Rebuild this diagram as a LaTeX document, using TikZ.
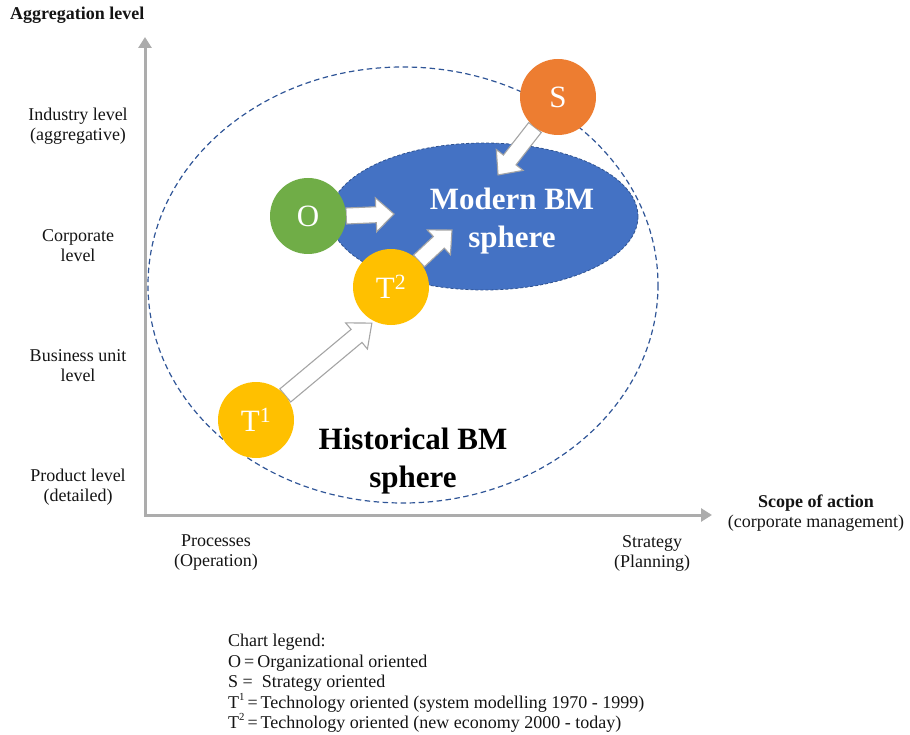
\documentclass[tikz,border=0pt]{standalone}
\usepackage{fontspec}
\setmainfont{Liberation Serif}
\usetikzlibrary{calc,arrows.meta}

\definecolor{axisgray}{RGB}{172,172,172}
\definecolor{arrowgray}{RGB}{165,165,165}
\definecolor{ringblue}{RGB}{47,85,151}
\definecolor{modernblue}{RGB}{68,114,196}
\definecolor{modernedge}{RGB}{47,82,143}
\definecolor{sorange}{RGB}{237,125,49}
\definecolor{ogreen}{RGB}{112,173,71}
\definecolor{tyellow}{RGB}{255,192,0}
\definecolor{labelblack}{RGB}{20,20,20}

% block arrow from a tail point to a tip point
% #1 tail, #2 tip, #3 shaft half width, #4 head half width, #5 head length
\newcommand\blockarrow[5]{%
  \path let \p1=(#1), \p2=(#2),
        \n1={atan2(\y2-\y1,\x2-\x1)}, \n2={veclen(\x2-\x1,\y2-\y1)} in
        \pgfextra{\xdef\baang{\n1}\xdef\balen{\n2}};
  \draw[blockarr, shift={(#1)}, rotate=\baang]
    (0pt,#3pt) -- ({\balen-#5pt},#3pt) -- ({\balen-#5pt},#4pt)
    -- (\balen,0pt) -- ({\balen-#5pt},-#4pt) -- ({\balen-#5pt},-#3pt)
    -- (0pt,-#3pt) -- cycle;
}
% small superscript used in the legend
\newcommand\supidx[1]{\raisebox{0.45em}{\scalebox{0.6}{#1}}}

\begin{document}
\begin{tikzpicture}[x=1pt,y=-1pt,
  axis/.style={draw=axisgray, line width=3pt},
  blockarr/.style={draw=arrowgray, fill=white, line width=1.1pt, line join=miter},
  lbl/.style={align=center, text=labelblack, font=\fontsize{18}{20}\selectfont, inner sep=0pt},
  axtitle/.style={align=center, text=labelblack, font=\fontsize{18}{20}\selectfont\bfseries, inner sep=0pt},
  bubble/.style={circle, minimum size=76pt, inner sep=0pt, text=white, font=\fontsize{31}{32}\selectfont},
  sphere/.style={align=center, inner sep=0pt, font=\fontsize{31}{38}\selectfont\bfseries}
]
\useasboundingbox (0,0) rectangle (910,735);

% axes
\coordinate (origin) at (145,515);
\coordinate (ytip) at (145,37);
\coordinate (xtip) at (712,515);
\draw[axis, {Triangle[length=11pt,width=13pt]}-{Triangle[length=11pt,width=13pt]}]
  (ytip) -- (origin) -- (xtip);

% axis titles and levels
\node[axtitle, anchor=west] (ytitle) at (10,15) {Aggregation level};
\node[lbl] (lvlind) at (78,126) {Industry level\\(aggregative)};
\node[lbl] (lvlcorp) at (78,246) {Corporate\\level};
\node[lbl] (lvlbu) at (78,366) {Business unit\\level};
\node[lbl] (lvlprod) at (78,487) {Product level\\(detailed)};
\node[lbl] (xproc) at (216,553) {Processes\\(Operation)};
\node[lbl] (xstrat) at (652,553) {Strategy\\(Planning)};
\node[axtitle] (xtitle) at (816,503) {Scope of action};
\node[lbl] (xsub) at (816,523) {(corporate management)};

% spheres
\draw[ringblue, line width=1.2pt, dash pattern=on 5.5pt off 3.5pt]
  (403,285) ellipse [x radius=255, y radius=218];
\fill[modernblue] (484,216.5) ellipse [x radius=154, y radius=73.5];
\draw[modernedge, line width=0.8pt, dash pattern=on 3pt off 2pt]
  (484,216.5) ellipse [x radius=154, y radius=73.5];

\node[sphere, text=white] (modern) at (512,221) {Modern BM\\sphere};
\node[sphere, text=black] (historical) at (413,461) {Historical BM\\sphere};

% influence nodes (placed first so the arrows can reach their borders)
\path node[bubble] (S) at (558,97) {}
      node[bubble] (O) at (308,216) {}
      node[bubble] (T2) at (391,287) {}
      node[bubble] (T1) at (256,420) {};

\coordinate (Stip) at (498,175);
\coordinate (Otip) at (394,214);
\coordinate (T2tip) at (452,230);
\coordinate (T1tip) at (372,323);

\blockarrow{S.233}{Stip}{8}{17}{19}
\blockarrow{O.east}{Otip}{8}{17}{18}
\blockarrow{T2.43}{T2tip}{8}{17}{18}
\blockarrow{T1.40}{T1tip}{8.5}{17}{20}

\node[bubble, fill=sorange] at (S) {S};
\node[bubble, fill=ogreen] at (O) {O};
\node[bubble, fill=tyellow] at (T2) {T\textsuperscript{2}};
\node[bubble, fill=tyellow] at (T1) {T\textsuperscript{1}};

% legend
\node[lbl, align=left, anchor=north west, font=\fontsize{18}{20.5}\selectfont]
  (legend) at (228,634)
  {Chart legend:\\
   O\,=\,Organizational oriented\\
   S =\ \ Strategy oriented\\
   T\supidx{1}\,=\,Technology oriented (system modelling 1970 - 1999)\\
   T\supidx{2}\,=\,Technology oriented (new economy 2000 - today)};
\end{tikzpicture}
\end{document}
